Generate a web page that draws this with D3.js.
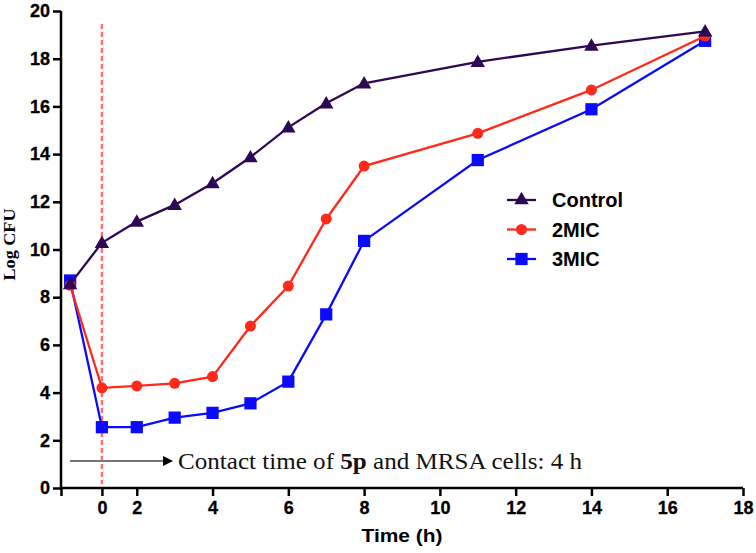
<!DOCTYPE html>
<html><head><meta charset="utf-8">
<script src="https://cdn.jsdelivr.net/npm/d3@7"></script>
<style>body{margin:0;background:#fff}svg{display:block}</style>
</head><body>
<script>
// ---- data ----
const timePositions = [0.24, 1.08, 2, 3, 4, 5, 6, 7, 8, 11, 14, 17];
const control = [8.55, 10.28, 11.17, 11.87, 12.78, 13.87, 15.12, 16.13, 16.97, 17.87, 18.55, 19.15];
const mic2 = [8.5, 4.2, 4.28, 4.39, 4.67, 6.79, 8.47, 11.28, 13.5, 14.87, 16.69, 18.95];
const mic3 = [8.7, 2.55, 2.55, 2.95, 3.15, 3.55, 4.46, 7.28, 10.36, 13.75, 15.88, 18.75];
const xTickValues = [0, 1.08, 2, 4, 6, 8, 10, 12, 14, 16, 18];
const xTickLabels = ["", "0", "2", "4", "6", "8", "10", "12", "14", "16", "18"];
const yTickValues = [0, 2, 4, 6, 8, 10, 12, 14, 16, 18, 20];
const seriesNames = ["Control", "2MIC", "3MIC"];
const contactStart = 1.08;

const W = 756, H = 553;
const svg = d3.select("body").append("svg").attr("width", W).attr("height", H);
const x = d3.scaleLinear().domain([0, 18]).range([61, 743]);
const y = d3.scaleLinear().domain([0, 20]).range([488, 11]);

const sans = "'Liberation Sans', Arial, sans-serif";
const serif = "'Liberation Serif', 'Times New Roman', serif";

// axes
const xAxis = svg.append("g").attr("transform", `translate(0,${y(0)})`)
  .call(d3.axisBottom(x).tickValues(xTickValues).tickSize(8).tickPadding(5)
    .tickFormat((d, i) => xTickLabels[i]));
const yAxis = svg.append("g").attr("transform", `translate(${x(0)},0)`)
  .call(d3.axisLeft(y).tickValues(yTickValues).tickSize(8).tickPadding(3));
[xAxis, yAxis].forEach(g => {
  g.select(".domain").attr("stroke", "#000").attr("stroke-width", 2.5).attr("d", null);
  g.selectAll(".tick line").attr("stroke", "#000").attr("stroke-width", 2.5);
  g.selectAll("text").attr("font-family", sans).attr("font-weight", "bold")
    .attr("font-size", 18).attr("fill", "#000").attr("stroke", "#000").attr("stroke-width", 0.3);
});
xAxis.select(".domain").attr("d", `M${x(0)},0H${x(18)}`);
yAxis.select(".domain").attr("d", `M0,${y(20)}V${y(0)}`);
xAxis.selectAll("text").attr("dy", "0.71em");

// axis titles
svg.append("text").attr("x", 402).attr("y", 542).attr("text-anchor", "middle")
  .attr("font-family", sans).attr("font-weight", "bold").attr("font-size", 19)
  .attr("textLength", 81).attr("lengthAdjust", "spacingAndGlyphs")
  .text("Time (h)");
svg.append("text").attr("transform", `translate(15,${(y(0)+y(20))/2 - 5}) rotate(-90)`)
  .attr("text-anchor", "middle").attr("font-family", serif).attr("font-weight", "bold")
  .attr("font-size", 17).attr("textLength", 72).attr("lengthAdjust", "spacingAndGlyphs")
  .text("Log CFU");

// dashed line at contact start
svg.append("line").attr("x1", x(contactStart)).attr("x2", x(contactStart))
  .attr("y1", 24).attr("y2", y(0) - 4)
  .attr("stroke", "#ff7070").attr("stroke-width", 2.5).attr("stroke-dasharray", "5,3");

// series
const series = [
  {name: seriesNames[2], values: mic3, color: "#0a0aff", shape: "square"},
  {name: seriesNames[1], values: mic2, color: "#ff2a1a", shape: "circle"},
  {name: seriesNames[0], values: control, color: "#2e0854", shape: "triangle"}
];
const symbolFor = s => s === "square" ? d3.symbol(d3.symbolSquare, 150)
  : s === "circle" ? d3.symbol(d3.symbolCircle, 95)
  : d3.symbol(d3.symbolTriangle, 90);
const line = d3.line().x((d, i) => x(timePositions[i])).y(d => y(d));
series.forEach(s => {
  svg.append("path").attr("d", line(s.values)).attr("fill", "none")
    .attr("stroke", s.color).attr("stroke-width", 2.3);
  svg.append("g").selectAll("path").data(s.values).join("path")
    .attr("transform", (d, i) => `translate(${x(timePositions[i])},${y(d) + (s.shape === "triangle" ? 1 : 0)})`)
    .attr("d", symbolFor(s.shape)()).attr("fill", s.color);
});

// legend
const legend = [series[2], series[1], series[0]];
const legendWidths = [79, 50, 52];
legend.forEach((s, i) => {
  const ly = 200 + i * 29.5;
  svg.append("line").attr("x1", 507).attr("x2", 536).attr("y1", ly).attr("y2", ly)
    .attr("stroke", s.color).attr("stroke-width", 2.3);
  svg.append("path").attr("transform", `translate(521.5,${ly})`)
    .attr("d", symbolFor(s.shape)()).attr("fill", s.color);
  svg.append("text").attr("x", 552).attr("y", ly).attr("dy", "0.36em")
    .attr("font-family", sans).attr("font-weight", "bold").attr("font-size", 20)
    .attr("fill", "#000").text(s.name);
});

// annotation arrow + text
const defs = svg.append("defs");
defs.append("marker").attr("id", "arr").attr("viewBox", "0 0 10 10").attr("refX", 9).attr("refY", 5)
  .attr("markerWidth", 5).attr("markerHeight", 5).attr("orient", "auto")
  .append("path").attr("d", "M0,0L10,5L0,10z").attr("fill", "#000");
svg.append("line").attr("x1", 70).attr("x2", 172).attr("y1", 461).attr("y2", 461)
  .attr("stroke", "#777").attr("stroke-width", 2).attr("marker-end", "url(#arr)");
const ann = svg.append("text").attr("x", 178).attr("y", 469)
  .attr("font-family", serif).attr("font-size", 23).attr("fill", "#111")
  .attr("textLength", 404).attr("lengthAdjust", "spacingAndGlyphs");
ann.append("tspan").text("Contact time of ");
ann.append("tspan").attr("font-weight", "bold").text("5p");
ann.append("tspan").text(" and MRSA cells: 4 h");
</script>
</body></html>
